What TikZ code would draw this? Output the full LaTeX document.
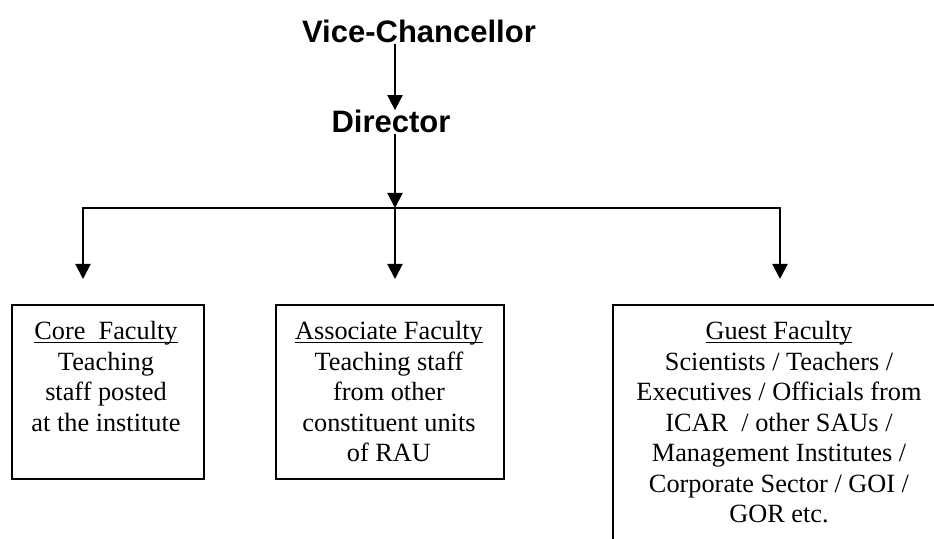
\documentclass[tikz,border=0pt]{standalone}
\usepackage{fontspec}
\setmainfont{Liberation Serif}
\newfontfamily\headfont{Liberation Sans}
\usepackage{tikz}
\usetikzlibrary{arrows.meta,positioning}
\newcommand{\faculname}[1]{\underline{\raisebox{0pt}[\height][0pt]{#1}}}
\tikzstyle{head}=[font=\headfont\bfseries\fontsize{15.5}{18}\selectfont,inner sep=0pt,anchor=base]
\tikzstyle{arr}=[-{Triangle[length=7.5pt,width=7.5pt]},line width=1pt]
\tikzstyle{facbox}=[draw,line width=1pt,inner sep=0pt,anchor=north west,minimum height=87pt]
\tikzstyle{factext}=[font=\fontsize{13.15}{15.25}\selectfont,align=center,inner sep=0pt,anchor=north]

\begin{document}
\begin{tikzpicture}[x=0.5pt,y=-0.5pt]
\useasboundingbox (0,0) rectangle (934,539);
\clip (0,0) rectangle (934,539);
\node[head] (vc) at (419,43) {Vice-Chancellor};
\node[head] (dir) at (391,133) {Director};
\coordinate (barL) at (83,208);
\coordinate (barM) at (395,208);
\coordinate (barR) at (780,208);
\coordinate (tipL) at (83,279);
\coordinate (tipM) at (395,279);
\coordinate (tipR) at (780,279);
\node[facbox,minimum width=96pt] (core) at (11,304) {};
\node[facbox,minimum width=114pt] (assoc) at (275,304) {};
\node[facbox,minimum width=170pt,minimum height=130pt] (guest) at (612,304) {};
\node[factext] (coretxt) at (106,321) {\faculname{Core\ \ Faculty}\\ Teaching\\ staff posted\\ at the institute};
\node[factext] (assoctxt) at (389,321) {\faculname{Associate Faculty}\\ Teaching staff\\ from other\\ constituent units\\ of RAU};
\node[factext] (guesttxt) at (779,321) {\faculname{Guest Faculty}\\ Scientists / Teachers /\\ Executives / Officials from\\ ICAR\ \ / other SAUs /\\ Management Institutes /\\ Corporate Sector / GOI /\\ GOR etc.};
\draw[line width=1pt,line cap=rect] (barL) -- (barR);
\path[arr]
(vc.south -| barM) edge (dir.north -| barM)
(dir.south -| barM) edge (barM)
(barL) edge (tipL)
(barM) edge (tipM)
(barR) edge (tipR);
\end{tikzpicture}
\end{document}
